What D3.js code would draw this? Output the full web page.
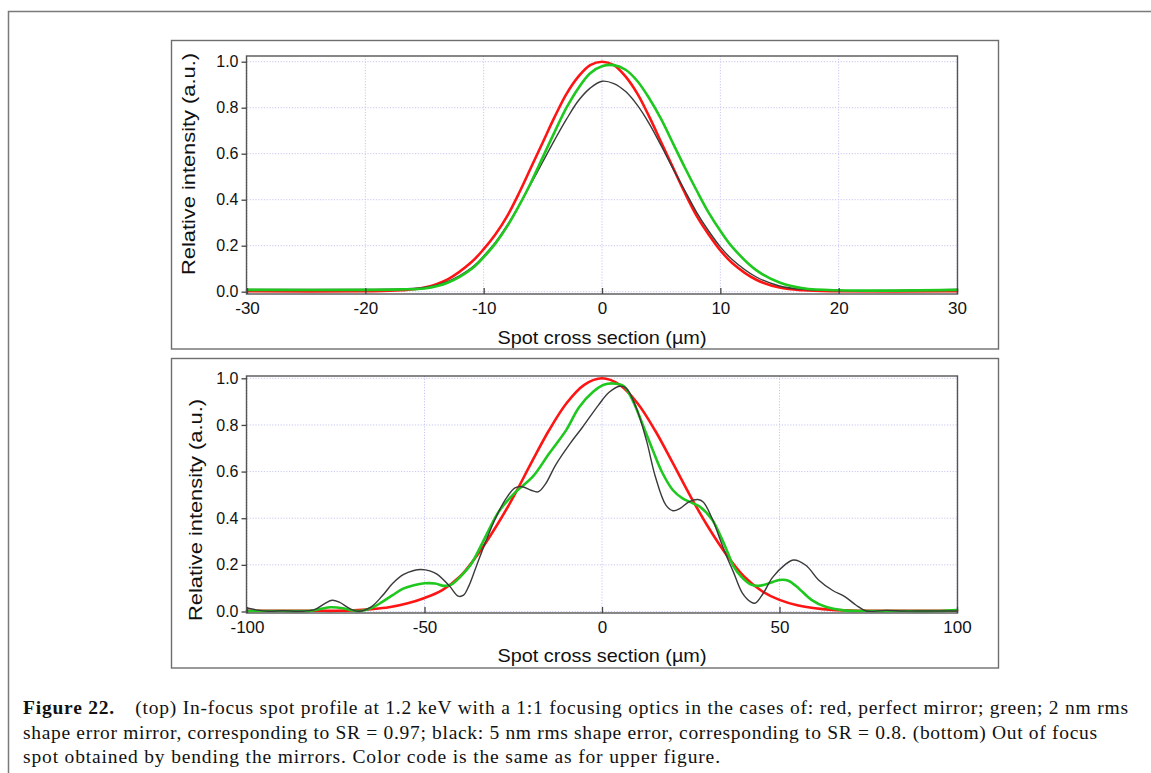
<!DOCTYPE html>
<html><head><meta charset="utf-8">
<script src="https://cdn.jsdelivr.net/npm/d3@7"></script>
<style>body{margin:0;background:#fff}svg{display:block}</style>
</head><body>
<svg id="c" width="1151" height="773"></svg>
<script>
// ---------- DATA ----------
const topTicksX = [-30, -20, -10, 0, 10, 20, 30];
const botTicksX = [-100, -50, 0, 50, 100];
const ticksY = [0, 0.2, 0.4, 0.6, 0.8, 1.0];

const topX = [-30,-20,-17,-15,-13,-11,-10,-9,-8,-7,-6,-5,-4,-3,-2,-1,0,1,2,3,4,5,6,7,8,9,10,11,13,15,17,20,30];
const topRed = [0.002,0.002,0.006,0.018,0.055,0.13,0.185,0.25,0.33,0.43,0.54,0.65,0.76,0.86,0.935,0.985,1.0,0.985,0.935,0.86,0.76,0.65,0.54,0.43,0.33,0.25,0.18,0.125,0.053,0.018,0.006,0.002,0.002];
const topGreen = [0.008,0.008,0.01,0.014,0.04,0.10,0.15,0.21,0.285,0.375,0.475,0.585,0.695,0.80,0.885,0.95,0.98,0.985,0.965,0.915,0.84,0.75,0.645,0.54,0.44,0.345,0.265,0.195,0.095,0.04,0.015,0.006,0.008];
const topBlack = [0.01,0.01,0.012,0.018,0.045,0.105,0.155,0.215,0.29,0.375,0.47,0.565,0.66,0.75,0.83,0.885,0.915,0.905,0.87,0.81,0.73,0.635,0.535,0.44,0.345,0.265,0.195,0.14,0.065,0.025,0.01,0.005,0.01];

const botRedX = [-100,-90,-80,-75,-70,-65,-60,-55,-50,-45,-40,-35,-30,-25,-20,-15,-10,-5,0,5,10,15,20,25,30,35,40,45,50,55,60,65,70,75,80,90,100];
const botRedY = [0.003,0.003,0.003,0.003,0.005,0.01,0.018,0.034,0.058,0.092,0.15,0.245,0.36,0.49,0.635,0.775,0.893,0.972,1.0,0.972,0.893,0.775,0.635,0.492,0.36,0.245,0.15,0.088,0.05,0.027,0.014,0.007,0.004,0.003,0.003,0.003,0.003];

const botGreenX = [-100,-90,-82,-79,-76.5,-73,-70,-68,-65,-62,-59,-56,-53,-50,-47,-44.5,-42.5,-40,-37,-33.5,-29,-24.5,-19.5,-15,-10,-6.5,-2.5,0.5,3,6,8.5,11.5,14.3,17,20,22.7,25.5,27.5,31,33.5,35.5,37,39.5,42,44,46.5,50,52.5,55.5,59,63,68,75,85,95,100];
const botGreenY = [0.002,0.002,0.003,0.012,0.018,0.014,0.004,0.002,0.015,0.04,0.07,0.098,0.113,0.121,0.12,0.11,0.115,0.148,0.2,0.30,0.43,0.51,0.578,0.675,0.78,0.875,0.942,0.972,0.978,0.968,0.91,0.80,0.692,0.595,0.52,0.485,0.465,0.45,0.395,0.32,0.25,0.195,0.145,0.115,0.11,0.118,0.135,0.132,0.098,0.05,0.02,0.005,0.002,0.002,0.002,0.006];

const botBlackX = [-100,-97,-94,-90,-85,-81,-78,-76,-74,-71,-68.5,-65,-62,-59,-56,-53,-51,-48.5,-46.5,-43,-40.5,-39,-37.5,-35.5,-33,-30,-27,-24.5,-22.5,-20,-18,-16,-13,-9,-5.5,-1,2,5,6.8,9.5,12.5,15,18,20,22,24.5,27,28.5,31,33,35,37,39.5,42,43.2,45.3,48,51.5,54,57.5,61,65,68.5,71.5,74.5,80,85,90,100];
const botBlackY = [0.015,0.006,0.001,0.003,0.001,0.008,0.035,0.048,0.04,0.012,0.001,0.02,0.065,0.12,0.158,0.176,0.18,0.174,0.16,0.11,0.066,0.07,0.11,0.19,0.29,0.40,0.485,0.53,0.535,0.52,0.513,0.545,0.63,0.72,0.79,0.885,0.94,0.966,0.958,0.88,0.735,0.58,0.456,0.432,0.442,0.47,0.48,0.47,0.40,0.32,0.24,0.17,0.08,0.04,0.036,0.075,0.145,0.2,0.221,0.197,0.135,0.09,0.063,0.028,0.002,0.005,0.002,0.002,0.002];

const xTitle = "Spot cross section (µm)";
const yTitle = "Relative intensity (a.u.)";
const colors = {red: "#ff1414", green: "#1ec81e", black: "#3a3a3a"};

// ---------- DRAW ----------
const svg = d3.select("#c");
const SANS = "'Liberation Sans', Arial, Helvetica, sans-serif";

// outer frame
svg.append("path").attr("d", "M8.5,773 L8.5,11.5 L1151,11.5")
  .attr("fill", "none").attr("stroke", "#7a7a7a").attr("stroke-width", 1.5);

function panel(cfg) {
  const g = svg.append("g");
  g.append("rect").attr("x", 171.5).attr("y", cfg.boxTop).attr("width", 827).attr("height", cfg.boxH)
    .attr("fill", "#fff").attr("stroke", "#6e6e6e").attr("stroke-width", 1.4);
  const x = d3.scaleLinear().domain(cfg.xDomain).range([247, 957]);
  const y = d3.scaleLinear().domain([0, 1]).range([cfg.y0, cfg.y1]);
  // grid
  const grid = g.append("g").attr("stroke", "#c6c6f2").attr("stroke-width", 1).attr("stroke-dasharray", "1.2,1.6");
  cfg.ticksX.forEach(t => grid.append("line").attr("x1", x(t)).attr("x2", x(t)).attr("y1", cfg.fTop).attr("y2", cfg.fBot));
  ticksY.forEach(t => grid.append("line").attr("x1", 247).attr("x2", 957).attr("y1", y(t)).attr("y2", y(t)));
  // curves
  const line = d3.line().x(d => x(d[0])).y(d => y(d[1])).curve(d3.curveCatmullRom.alpha(0.5));
  cfg.series.forEach(s => {
    g.append("path").datum(d3.zip(s.x, s.y)).attr("d", line)
      .attr("fill", "none").attr("stroke", s.color).attr("stroke-width", s.w)
      .attr("stroke-linejoin", "round").attr("stroke-linecap", "round");
  });
  // frame
  g.append("rect").attr("x", 246.5).attr("y", cfg.fTop).attr("width", 711).attr("height", cfg.fBot - cfg.fTop)
    .attr("fill", "none").attr("stroke", "#555").attr("stroke-width", 1.4);
  // y axis
  const ya = g.append("g").attr("transform", "translate(246.5,0)")
    .call(d3.axisLeft(y).tickValues(ticksY).tickFormat(d3.format(".1f")).tickSize(5).tickPadding(3));
  ya.select(".domain").remove();
  ya.selectAll("line").attr("stroke", "#444").attr("stroke-width", 1.3);
  ya.selectAll("text").attr("font-family", SANS).attr("font-size", 16).attr("fill", "#111");
  // x axis (ticks inward), hyphen-minus labels
  const xa = g.append("g").attr("transform", `translate(0,${cfg.fBot})`)
    .call(d3.axisBottom(x).tickValues(cfg.ticksX).tickFormat(d => String(d)).tickSize(-6).tickPadding(8));
  xa.select(".domain").remove();
  xa.selectAll("line").attr("stroke", "#444").attr("stroke-width", 1.3);
  xa.selectAll("text").attr("font-family", SANS).attr("font-size", 17).attr("fill", "#111");
  // titles
  g.append("text").attr("x", 602).attr("y", cfg.xTitleY).attr("text-anchor", "middle")
    .attr("font-family", SANS).attr("font-size", 18.5).attr("fill", "#111")
    .attr("textLength", 209).attr("lengthAdjust", "spacingAndGlyphs").text(xTitle);
  g.append("text").attr("transform", `translate(${cfg.yTitleX},${cfg.yTitleY}) rotate(-90)`)
    .attr("text-anchor", "middle").attr("font-family", SANS).attr("font-size", 18).attr("fill", "#111")
    .attr("textLength", 222).attr("lengthAdjust", "spacingAndGlyphs").text(yTitle);
}

panel({
  boxTop: 40.5, boxH: 308.5, xDomain: [-30, 30], ticksX: topTicksX,
  y0: 291.7, y1: 61.7, fTop: 56, fBot: 294,
  xTitleY: 344, yTitleX: 195, yTitleY: 164,
  series: [
    {x: topX, y: topRed, color: colors.red, w: 2.6},
    {x: topX, y: topBlack, color: colors.black, w: 1.4},
    {x: topX, y: topGreen, color: colors.green, w: 2.6}
  ]
});
panel({
  boxTop: 358.5, boxH: 309.5, xDomain: [-100, 100], ticksX: botTicksX,
  y0: 611.5, y1: 378.3, fTop: 376, fBot: 613,
  xTitleY: 662, yTitleX: 202, yTitleY: 510,
  series: [
    {x: botRedX, y: botRedY, color: colors.red, w: 2.6},
    {x: botGreenX, y: botGreenY, color: colors.green, w: 2.6},
    {x: botBlackX, y: botBlackY, color: colors.black, w: 1.4}
  ]
});

// caption
const SERIF = "'Liberation Serif', 'Times New Roman', serif";
const cap = svg.append("g").attr("font-family", SERIF).attr("font-size", 19.5).attr("fill", "#111");
const l1 = cap.append("text").attr("x", 23).attr("y", 714).attr("textLength", 1105).attr("lengthAdjust", "spacing");
l1.append("tspan").attr("font-weight", "bold").text("Figure 22.");
l1.append("tspan").text("\u2003(top) In-focus spot profile at 1.2 keV with a 1:1 focusing optics in the cases of: red, perfect mirror; green; 2 nm rms");
cap.append("text").attr("x", 23).attr("y", 738.5).attr("textLength", 1074).attr("lengthAdjust", "spacing")
  .text("shape error mirror, corresponding to SR = 0.97; black: 5 nm rms shape error, corresponding to SR = 0.8. (bottom) Out of focus");
cap.append("text").attr("x", 23).attr("y", 763).attr("textLength", 697).attr("lengthAdjust", "spacing")
  .text("spot obtained by bending the mirrors. Color code is the same as for upper figure.");
</script>
</body></html>
